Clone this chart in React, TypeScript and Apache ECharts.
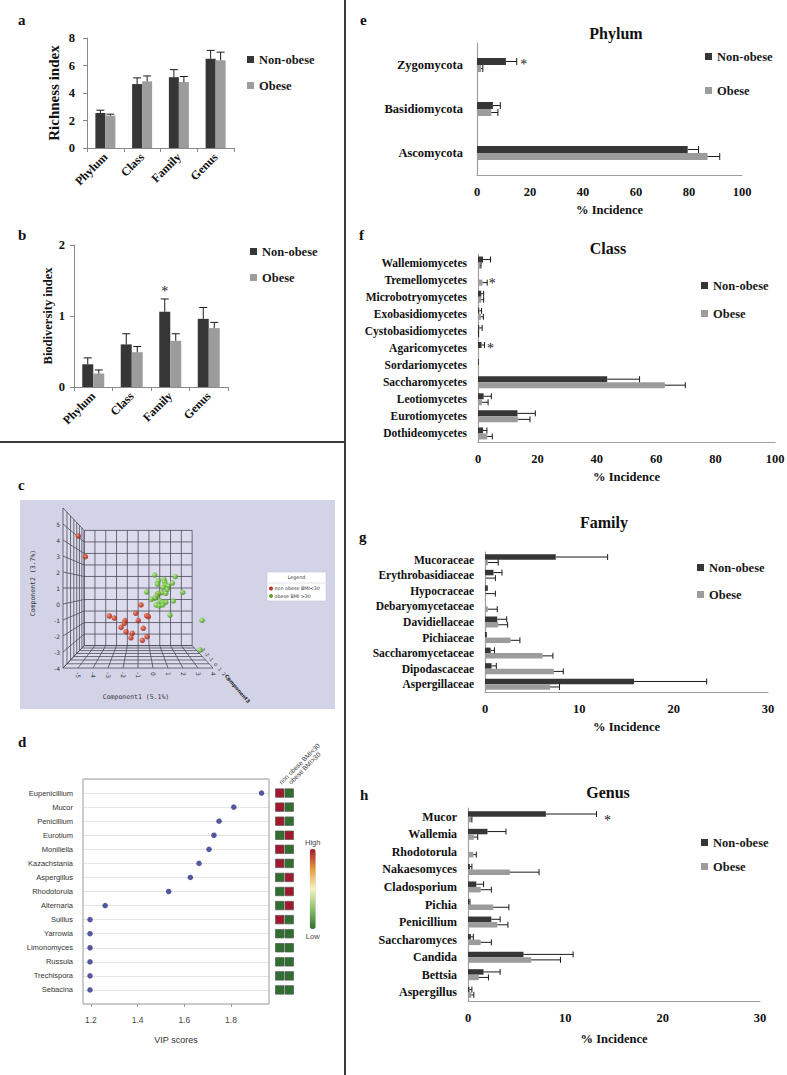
import React, { useEffect, useRef } from "react";
import * as echarts from "echarts";

const SERIF = "'Liberation Serif', 'Times New Roman', serif";
const SANS = "'Liberation Sans', Arial, sans-serif";
const NON = "Non-obese";
const OB = "Obese";
const DARK = "#363636";
const LIGHT = "#9c9c9c";

// ---- a: richness index
const indexCats = ["Phylum", "Class", "Family", "Genus"];
const richNon = [2.55, 4.65, 5.15, 6.5];
const richNonErr = [2.75, 5.1, 5.7, 7.1];
const richOb = [2.35, 4.85, 4.8, 6.38];
const richObErr = [2.46, 5.24, 5.2, 6.97];

// ---- b: biodiversity index
const bioNon = [0.32, 0.6, 1.06, 0.96];
const bioNonErr = [0.41, 0.75, 1.24, 1.12];
const bioOb = [0.19, 0.49, 0.65, 0.83];
const bioObErr = [0.24, 0.57, 0.75, 0.91];
const bioSigNon = [0, 0, 1, 0];

// ---- c: PLS-DA scores (front-plane projection of component1 / component2)
const redC1 = [-4.98, -4.51, -0.8, -2.91, -2.58, -1.15, -0.42, -0.31, -1.87, -1.91, -0.98, -2.13, -0.65, -1.8, -1.38, -1.47, -0.71, -0.4, 0.33];
const redC2 = [4.25, 2.96, -0.06, -0.75, -0.88, -0.58, -0.73, -0.79, -1.04, -1.21, -1.04, -1.46, -1.52, -1.73, -1.83, -2.11, -2.27, -2.04, 0.63];
const greenC1 = [0.11, 0.35, 0.29, 0.73, 0.78, 0.82, 0.69, 1.0, 1.49, 1.29, -0.42, 1.98, 0.58, 0.85, 0.95, 0.35, 0.25, 0.13, -0.09, 0.47, 0.65, 0.85, 1.35, 0.2, 0.42, 0.65, 1.13, 3.27, 3.13];
const greenC2 = [1.81, 1.44, 1.25, 1.54, 1.38, 1.19, 1.04, 1.13, 1.71, 1.31, 0.75, 0.73, 0.71, 0.67, 0.92, 0.67, 0.5, 0.36, 0.29, 0.19, 0.11, 0.11, 0.19, -0.06, -0.11, -0.06, -0.69, -1.02, -2.88];
const c1Ticks = [-5, -4, -3, -2, -1, 0, 1, 2, 3, 4];
const c2Ticks = [-4, -3, -2, -1, 0, 1, 2, 3, 4, 5];

// ---- d: VIP scores
const vipGenera = ["Eupenicillium", "Mucor", "Penicillium", "Eurotium", "Moniliella", "Kazachstania", "Aspergillus", "Rhodotorula", "Alternaria", "Suillus", "Yarrowia", "Limonomyces", "Russula", "Trechispora", "Sebacina"];
const vipScores = [1.931, 1.812, 1.749, 1.727, 1.706, 1.663, 1.626, 1.533, 1.261, 1.196, 1.196, 1.196, 1.196, 1.196, 1.196];
const heatGroups = ["non obese BMI<30", "obese BMI>30"];
const heatNon = [1, 1, 1, 0, 1, 1, 0, 0, 0, 1, 0, 0, 0, 0, 0];
const heatOb = [0, 0, 0, 1, 0, 0, 1, 1, 1, 0, 0, 0, 0, 0, 0];

// ---- e: phylum (bottom to top)
const phylumCats = ["Ascomycota", "Basidiomycota", "Zygomycota"];
const phylumNon = [79.5, 6.0, 10.9];
const phylumNonErr = [83.6, 8.8, 15.0];
const phylumOb = [87.0, 5.4, 1.6];
const phylumObErr = [91.6, 7.9, 2.2];
const phylumSigNon = [0, 0, 1];

// ---- f: class (bottom to top)
const classCats = ["Dothideomycetes", "Eurotiomycetes", "Leotiomycetes", "Saccharomycetes", "Sordariomycetes", "Agaricomycetes", "Cystobasidiomycetes", "Exobasidiomycetes", "Microbotryomycetes", "Tremellomycetes", "Wallemiomycetes"];
const classNon = [1.7, 13.3, 1.9, 43.5, 0.3, 1.2, 0.4, 0.4, 1.1, 0, 1.7];
const classNonErr = [3.0, 19.3, 4.5, 54.4, 0.3, 2.2, 1.4, 1.2, 1.9, 0, 4.2];
const classOb = [3.1, 13.4, 1.3, 62.9, 0.2, 0.2, 0.1, 1.0, 1.1, 1.5, 0.8];
const classObErr = [4.8, 17.5, 3.4, 69.8, 0.2, 0.2, 0.2, 1.8, 1.9, 3.1, 1.0];
const classSigNon = [0, 0, 0, 0, 0, 1, 0, 0, 0, 0, 0];
const classSigOb = [0, 0, 0, 0, 0, 0, 0, 0, 0, 1, 0];

// ---- g: family (bottom to top)
const familyCats = ["Aspergillaceae", "Dipodascaceae", "Saccharomycetaceae", "Pichiaceae", "Davidiellaceae", "Debaryomycetaceae", "Hypocraceae", "Erythrobasidiaceae", "Mucoraceae"];
const familyNon = [15.8, 0.7, 0.6, 0.2, 1.3, 0, 0.3, 0.9, 7.5];
const familyNonErr = [23.5, 1.2, 1.0, 0.2, 2.3, 0, 0.3, 1.8, 13.0];
const familyOb = [6.9, 7.3, 6.1, 2.7, 1.4, 0.3, 0.05, 0.1, 0.3];
const familyObErr = [7.9, 8.3, 7.2, 3.7, 2.4, 1.3, 1.1, 1.1, 1.4];

// ---- h: genus (bottom to top)
const genusCats = ["Aspergillus", "Bettsia", "Candida", "Saccharomyces", "Penicillium", "Pichia", "Cladosporium", "Nakaesomyces", "Rhodotorula", "Wallemia", "Mucor"];
const genusNon = [0.15, 1.6, 5.7, 0.3, 2.4, 0.1, 0.85, 0.2, 0, 2.0, 8.0];
const genusNonErr = [0.4, 3.3, 10.8, 0.55, 3.3, 0.2, 1.6, 0.4, 0, 3.9, 13.2];
const genusOb = [0.35, 1.1, 6.5, 1.3, 3.0, 2.6, 1.3, 4.3, 0.55, 0.6, 0.35];
const genusObErr = [0.6, 2.1, 9.5, 2.4, 4.1, 4.2, 2.4, 7.3, 0.85, 1.0, 0.4];
const genusSigNon = [0, 0, 0, 0, 0, 0, 0, 0, 0, 0, 1];

const bold = (size: number, color = "#111") => ({ fontFamily: SERIF, fontWeight: "bold" as const, fontSize: size, color });

function errSeries(axis: number, horizontal: boolean, vals: number[], errs: number[], sig: number[] | null, off: number, cap: number, sdx: number, sdy: number) {
  return {
    type: "custom",
    name: "err" + axis + "_" + off,
    xAxisIndex: axis,
    yAxisIndex: axis,
    z: 5,
    silent: true,
    clip: false,
    itemStyle: { color: "#222222" },
    data: vals.map((v, i) => [i, v, errs[i], sig ? sig[i] : 0]),
    encode: horizontal ? { x: [1, 2], y: 0 } : { x: 0, y: [1, 2] },
    renderItem: (_p: any, api: any) => {
      const i = api.value(0), v = api.value(1), e = api.value(2), s = api.value(3);
      const children: any[] = [];
      const ls = { stroke: "#1a1a1a", lineWidth: 1 };
      const star = (x: number, y: number) => ({ type: "text", x, y, style: { text: "*", fill: "#222222", font: `14px ${SERIF}`, align: "center", verticalAlign: "middle" } });
      if (horizontal) {
        const p0 = api.coord([v, i]);
        const p1 = api.coord([e, i]);
        const y = p0[1] + off;
        if (e > v) {
          children.push({ type: "line", shape: { x1: p0[0], y1: y, x2: p1[0], y2: y }, style: ls });
          children.push({ type: "line", shape: { x1: p1[0], y1: y - cap, x2: p1[0], y2: y + cap }, style: ls });
        }
        if (s) children.push(star(p1[0] + sdx, y + sdy));
      } else {
        const p0 = api.coord([i, v]);
        const p1 = api.coord([i, e]);
        const x = p0[0] + off;
        if (e > v) {
          children.push({ type: "line", shape: { x1: x, y1: p0[1], x2: x, y2: p1[1] }, style: ls });
          children.push({ type: "line", shape: { x1: x - cap, y1: p1[1], x2: x + cap, y2: p1[1] }, style: ls });
        }
        if (s) children.push(star(x + sdx, p1[1] + sdy));
      }
      return { type: "group", children };
    },
  };
}

function barPair(axis: number, non: number[], ob: number[], w: number) {
  return [
    { type: "bar", name: NON, xAxisIndex: axis, yAxisIndex: axis, data: non, barWidth: w, barGap: "0%", itemStyle: { color: DARK }, silent: true },
    { type: "bar", name: OB, xAxisIndex: axis, yAxisIndex: axis, data: ob, barWidth: w, barGap: "0%", itemStyle: { color: LIGHT }, silent: true },
  ];
}

function legendAt(left: number, top: number, gap: number) {
  return {
    data: [NON, OB], left, top, orient: "vertical", itemWidth: 7, itemHeight: 7, itemGap: gap, icon: "rect",
    selectedMode: false, padding: 0, textStyle: bold(12.5, "#1a1a1a"),
  };
}

// perspective projection of the 3D box in panel c
function proj(c1: number, c2: number, d: number): number[] {
  const s = 1 / (1 + 0.389 * d);
  const fx = 63 + (c1 + 6) * 15;
  const fy = 668 - (c2 + 4) * 16;
  return [138.5 + (fx - 138.5) * s, 588 + (fy - 588) * s];
}

function txt(x: number, y: number, text: string, font: string, fill = "#111", align = "center", extra: any = {}) {
  return { type: "text", x, y, silent: true, ...extra, style: { text, font, fill, align, verticalAlign: "middle" } };
}

function buildGraphics() {
  const g: any[] = [];
  const letterFont = `bold 15px ${SERIF}`;
  g.push(txt(18, 20, "a", letterFont, "#111", "left"));
  g.push(txt(18, 235, "b", letterFont, "#111", "left"));
  g.push(txt(18, 485, "c", letterFont, "#111", "left"));
  g.push(txt(18, 742, "d", letterFont, "#111", "left"));
  g.push(txt(360, 20, "e", letterFont, "#111", "left"));
  g.push(txt(359, 235, "f", letterFont, "#111", "left"));
  g.push(txt(359, 537, "g", letterFont, "#111", "left"));
  g.push(txt(360, 795, "h", letterFont, "#111", "left"));
  const titleFont = `bold 16px ${SERIF}`;
  g.push(txt(616, 33, "Phylum", titleFont));
  g.push(txt(608, 248, "Class", titleFont));
  g.push(txt(604, 522, "Family", titleFont));
  g.push(txt(608, 792, "Genus", titleFont));
  // separators
  g.push({ type: "line", silent: true, shape: { x1: 0, y1: 442, x2: 345, y2: 442 }, style: { stroke: "#3a3a3a", lineWidth: 2 } });
  g.push({ type: "line", silent: true, shape: { x1: 345, y1: 0, x2: 345, y2: 1075 }, style: { stroke: "#3a3a3a", lineWidth: 2 } });

  // panel c background
  g.push({ type: "rect", silent: true, z: -10, shape: { x: 20, y: 500, width: 315, height: 209 }, style: { fill: "#d3d3e8" } });
  const wallFill = "#dcdcee";
  const poly = (pts: number[][]) => ({ type: "polygon", silent: true, z: -5, shape: { points: pts }, style: { fill: wallFill } });
  g.push(poly([proj(-6, -4, 1), proj(4, -4, 1), proj(4, 6, 1), proj(-6, 6, 1)]));
  g.push(poly([proj(-6, -4, 0), proj(-6, -4, 1), proj(-6, 6, 1), proj(-6, 6, 0)]));
  g.push(poly([proj(-6, -4, 0), proj(4, -4, 0), proj(4, -4, 1), proj(-6, -4, 1)]));
  const ln = (a: number[], b: number[]) => ({ type: "line", silent: true, z: -4, shape: { x1: a[0], y1: a[1], x2: b[0], y2: b[1] }, style: { stroke: "#4a4a55", lineWidth: 0.8 } });
  for (let c1 = -6; c1 <= 4; c1++) {
    g.push(ln(proj(c1, -4, 1), proj(c1, 6, 1)));
    g.push(ln(proj(c1, -4, 0), proj(c1, -4, 1)));
  }
  for (let c2 = -4; c2 <= 6; c2++) {
    g.push(ln(proj(-6, c2, 1), proj(4, c2, 1)));
    g.push(ln(proj(-6, c2, 0), proj(-6, c2, 1)));
  }
  for (let k = 0; k <= 7; k++) {
    const d = k / 7;
    g.push(ln(proj(-6, -4, d), proj(-6, 6, d)));
    g.push(ln(proj(-6, -4, d), proj(4, -4, d)));
  }
  const tickFont = `6px 'DejaVu Sans', sans-serif`;
  c2Ticks.forEach((t) => g.push(txt(60, 668 - (t + 4) * 16, String(t), tickFont, "#333", "right")));
  c1Ticks.forEach((t) => g.push(txt(63 + (t + 6) * 15, 672, String(t), tickFont, "#333", "left", { rotation: -Math.PI / 2 })));
  g.push(txt(201, 647, "-3 -2 -1  0  1  2  3", `5px 'DejaVu Sans', sans-serif`, "#444", "left", { rotation: -0.86 }));
  g.push(txt(226, 675, "Component3", `bold 5px 'DejaVu Sans', sans-serif`, "#222", "left", { rotation: -0.86 }));
  const axFont = `6.5px 'DejaVu Sans Mono', monospace`;
  g.push(txt(136, 697, "Component1 (5.1%)", axFont, "#333"));
  g.push(txt(33, 583, "Component2 (3.7%)", axFont, "#333", "center", { rotation: Math.PI / 2 }));
  // legend box in c
  g.push({ type: "rect", silent: true, z: 6, shape: { x: 267, y: 572, width: 59, height: 29 }, style: { fill: "#ffffff", stroke: "#c4c4d4", lineWidth: 0.6 } });
  g.push({ type: "line", silent: true, z: 7, shape: { x1: 268, y1: 583, x2: 325, y2: 583 }, style: { stroke: "#d0d0dc", lineWidth: 0.6 } });
  const lgFont = `4.8px 'DejaVu Sans', sans-serif`;
  g.push(txt(296.5, 577.5, "Legend", lgFont, "#333", "center", { z: 7 }));
  g.push({ type: "circle", silent: true, z: 7, shape: { cx: 271, cy: 588.5, r: 2 }, style: { fill: "#c0301a" } });
  g.push({ type: "circle", silent: true, z: 7, shape: { cx: 271, cy: 596, r: 2 }, style: { fill: "#5aa82a" } });
  g.push(txt(274.5, 588.5, "non obese BMI<30", lgFont, "#333", "left", { z: 7 }));
  g.push(txt(274.5, 596, "obese BMI >30", lgFont, "#333", "left", { z: 7 }));
  // heatmap column headers in d (rotated)
  const hdFont = `6.5px ${SANS}`;
  g.push(txt(280, 783, heatGroups[0], hdFont, "#333", "left", { rotation: Math.PI / 4 }));
  g.push(txt(289.5, 783, heatGroups[1], hdFont, "#333", "left", { rotation: Math.PI / 4 }));
  return g;
}

function buildOption() {
  const vipAxisCats = ["", ...vipGenera, ""];
  const redGrad = new echarts.graphic.RadialGradient(0.35, 0.35, 0.75, [
    { offset: 0, color: "#f08a6a" }, { offset: 0.5, color: "#c8381c" }, { offset: 1, color: "#8a1a0c" },
  ]);
  const greenGrad = new echarts.graphic.RadialGradient(0.35, 0.35, 0.75, [
    { offset: 0, color: "#bff08a" }, { offset: 0.5, color: "#6cbf3a" }, { offset: 1, color: "#3a7a1a" },
  ]);

  const series: any[] = [];
  // a
  series.push(...barPair(0, richNon, richOb, 10));
  series.push(errSeries(0, false, richNon, richNonErr, null, -5, 4, 0, 0));
  series.push(errSeries(0, false, richOb, richObErr, null, 5, 4, 0, 0));
  // b
  series.push(...barPair(1, bioNon, bioOb, 11));
  series.push(errSeries(1, false, bioNon, bioNonErr, bioSigNon, -5.5, 4, 0, -7));
  series.push(errSeries(1, false, bioOb, bioObErr, null, 5.5, 4, 0, 0));
  // c
  series.push({
    type: "scatter", name: "non obese BMI<30", xAxisIndex: 2, yAxisIndex: 2, symbolSize: 5.5, silent: true,
    data: redC1.map((v, i) => [v, redC2[i]]), itemStyle: { color: redGrad },
  });
  series.push({
    type: "scatter", name: "obese BMI >30", xAxisIndex: 2, yAxisIndex: 2, symbolSize: 5.5, silent: true,
    data: greenC1.map((v, i) => [v, greenC2[i]]), itemStyle: { color: greenGrad },
  });
  // d
  series.push({
    type: "scatter", name: "VIP", xAxisIndex: 3, yAxisIndex: 3, symbolSize: 5.5, silent: true,
    data: vipScores.map((v, i) => [v, vipGenera[i]]), itemStyle: { color: "#2b2f88" },
  });
  const heatIndex = series.length;
  const heatData: any[] = [];
  vipGenera.forEach((gname, i) => {
    heatData.push([heatGroups[0], gname, heatNon[i]]);
    heatData.push([heatGroups[1], gname, heatOb[i]]);
  });
  series.push({
    type: "scatter", name: "heat", xAxisIndex: 4, yAxisIndex: 4, symbol: "rect", symbolSize: [8.5, 8.5], silent: true,
    data: heatData, itemStyle: { borderColor: "#555", borderWidth: 0.7, opacity: 1 },
  });
  // e
  series.push(...barPair(5, phylumNon, phylumOb, 7));
  series.push(errSeries(5, true, phylumNon, phylumNonErr, phylumSigNon, -3.5, 3.5, 7, 3));
  series.push(errSeries(5, true, phylumOb, phylumObErr, null, 3.5, 3.5, 0, 0));
  // f
  series.push(...barPair(6, classNon, classOb, 6));
  series.push(errSeries(6, true, classNon, classNonErr, classSigNon, -3, 3, 6, 3));
  series.push(errSeries(6, true, classOb, classObErr, classSigOb, 3, 3, 5, 1));
  // g
  series.push(...barPair(7, familyNon, familyOb, 5.5));
  series.push(errSeries(7, true, familyNon, familyNonErr, null, -2.75, 3, 0, 0));
  series.push(errSeries(7, true, familyOb, familyObErr, null, 2.75, 3, 0, 0));
  // h
  series.push(...barPair(8, genusNon, genusOb, 5.5));
  series.push(errSeries(8, true, genusNon, genusNonErr, genusSigNon, -2.75, 3, 11, 6));
  series.push(errSeries(8, true, genusOb, genusObErr, null, 2.75, 3, 0, 0));

  const gridBase = { outerBoundsMode: "none", containLabel: false };
  const grid = [
    { ...gridBase, left: 87, top: 38, width: 147, height: 110 },
    { ...gridBase, left: 74, top: 245, width: 154, height: 142 },
    { ...gridBase, left: 63, top: 508, width: 150, height: 160 },
    { ...gridBase, left: 83, top: 779, width: 186, height: 225, show: true, borderColor: "#9a9a9a", borderWidth: 1 },
    { ...gridBase, left: 275, top: 779, width: 19, height: 225 },
    { ...gridBase, left: 477, top: 43, width: 265, height: 132 },
    { ...gridBase, left: 478, top: 254, width: 297, height: 188 },
    { ...gridBase, left: 485, top: 552, width: 283, height: 140 },
    { ...gridBase, left: 468, top: 808, width: 292, height: 193 },
  ];

  const grayLine = { show: true, lineStyle: { color: "#8a8a8a", width: 1 } };
  const catBottom = (gi: number) => ({
    type: "category", gridIndex: gi, data: indexCats, axisLine: grayLine,
    axisTick: { show: true, length: 4, lineStyle: { color: "#8a8a8a" } },
    axisLabel: { ...bold(12), rotate: 45, margin: 7, interval: 0 },
  });
  const incidenceX = (gi: number, max: number, interval: number, gap: number) => ({
    type: "value", gridIndex: gi, min: 0, max, interval, axisLine: { show: true, lineStyle: { color: "#a0a0a0", width: 1.2 } },
    axisTick: { show: false }, splitLine: { show: false }, axisLabel: { ...bold(12.5), margin: 10 },
    name: "% Incidence", nameLocation: "middle", nameGap: gap, nameTextStyle: bold(12.5),
  });
  const catLeft = (gi: number, data: string[], size: number, margin: number) => ({
    type: "category", gridIndex: gi, data, axisLine: { show: true, lineStyle: { color: "#a0a0a0", width: 1.2 } },
    axisTick: { show: false }, axisLabel: { ...bold(size), margin, interval: 0 },
  });

  const xAxis = [
    catBottom(0),
    catBottom(1),
    { type: "value", gridIndex: 2, min: -6, max: 4, show: false },
    {
      type: "value", gridIndex: 3, min: 1.166, max: 1.963, axisLine: { show: false },
      axisTick: { show: true, length: 3, lineStyle: { color: "#9a9a9a" } }, splitLine: { show: false },
      axisLabel: { fontFamily: SANS, fontSize: 8.5, color: "#444444", margin: 11, showMinLabel: false, showMaxLabel: false, formatter: (v: number) => v.toFixed(1) },
      name: "VIP scores", nameLocation: "middle", nameGap: 31, nameTextStyle: { fontFamily: SANS, fontSize: 9, color: "#333333" },
    },
    {
      type: "category", gridIndex: 4, data: heatGroups, position: "top", axisLine: { show: false }, axisTick: { show: false },
      axisLabel: { show: false },
    },
    incidenceX(5, 100, 20, 28),
    incidenceX(6, 100, 20, 28),
    incidenceX(7, 30, 10, 28),
    incidenceX(8, 30, 10, 31),
  ];

  const yAxis = [
    {
      type: "value", gridIndex: 0, min: 0, max: 8, interval: 2, axisLine: grayLine,
      axisTick: { show: true, length: 4, lineStyle: { color: "#8a8a8a" } }, splitLine: { show: false },
      axisLabel: { ...bold(12.5), margin: 12 }, name: "Richness index", nameLocation: "middle", nameGap: 26, nameTextStyle: bold(15),
    },
    {
      type: "value", gridIndex: 1, min: 0, max: 2, interval: 1, axisLine: grayLine,
      axisTick: { show: true, length: 4, lineStyle: { color: "#8a8a8a" } }, splitLine: { show: false },
      axisLabel: { ...bold(12.5), margin: 9 }, name: "Biodiversity index", nameLocation: "middle", nameGap: 11, nameTextStyle: bold(12.5),
    },
    { type: "value", gridIndex: 2, min: -4, max: 6, show: false },
    {
      type: "category", gridIndex: 3, data: vipAxisCats, inverse: true, boundaryGap: false, axisLine: { show: false },
      axisTick: { show: false }, axisLabel: { fontFamily: SANS, fontSize: 7.5, color: "#333333", margin: 10, interval: 0 },
      splitLine: { show: true, interval: 0, lineStyle: { color: "#bdbdbd", type: "dotted", width: 0.8 } },
    },
    { type: "category", gridIndex: 4, data: vipAxisCats, inverse: true, boundaryGap: false, show: false },
    catLeft(5, phylumCats, 12.5, 14),
    catLeft(6, classCats, 11.5, 11),
    catLeft(7, familyCats, 11.5, 11),
    catLeft(8, genusCats, 12, 11),
  ];

  return {
    animation: false,
    backgroundColor: "#ffffff",
    grid,
    xAxis,
    yAxis,
    legend: [
      legendAt(247, 53, 13),
      legendAt(250, 245, 13),
      legendAt(705, 50, 21),
      legendAt(701, 279, 15),
      legendAt(697, 561, 14),
      legendAt(701, 836, 11),
    ],
    visualMap: [{
      type: "continuous", min: 0, max: 1, seriesIndex: heatIndex, dimension: 2, orient: "vertical",
      left: 305, top: 838, itemWidth: 6, itemHeight: 80, padding: 0, textGap: 3, calculable: false, realtime: false,
      text: ["High", "Low"], textStyle: { fontFamily: SANS, fontSize: 7.5, color: "#444444" },
      inRange: { color: ["#2f6f30", "#8fbf6a", "#f5f3c2", "#e39a3f", "#a2192e"] },
    }],
    graphic: { elements: buildGraphics() },
    series,
  };
}

export default function App() {
  const ref = useRef<HTMLDivElement>(null);
  useEffect(() => {
    const chart = echarts.init(ref.current!, null, { renderer: "svg", width: 787, height: 1075 });
    chart.setOption(buildOption() as any);
    return () => chart.dispose();
  }, []);
  return <div ref={ref} style={{ position: "absolute", left: 0, top: 0, width: 787, height: 1075, background: "#fff" }} />;
}
